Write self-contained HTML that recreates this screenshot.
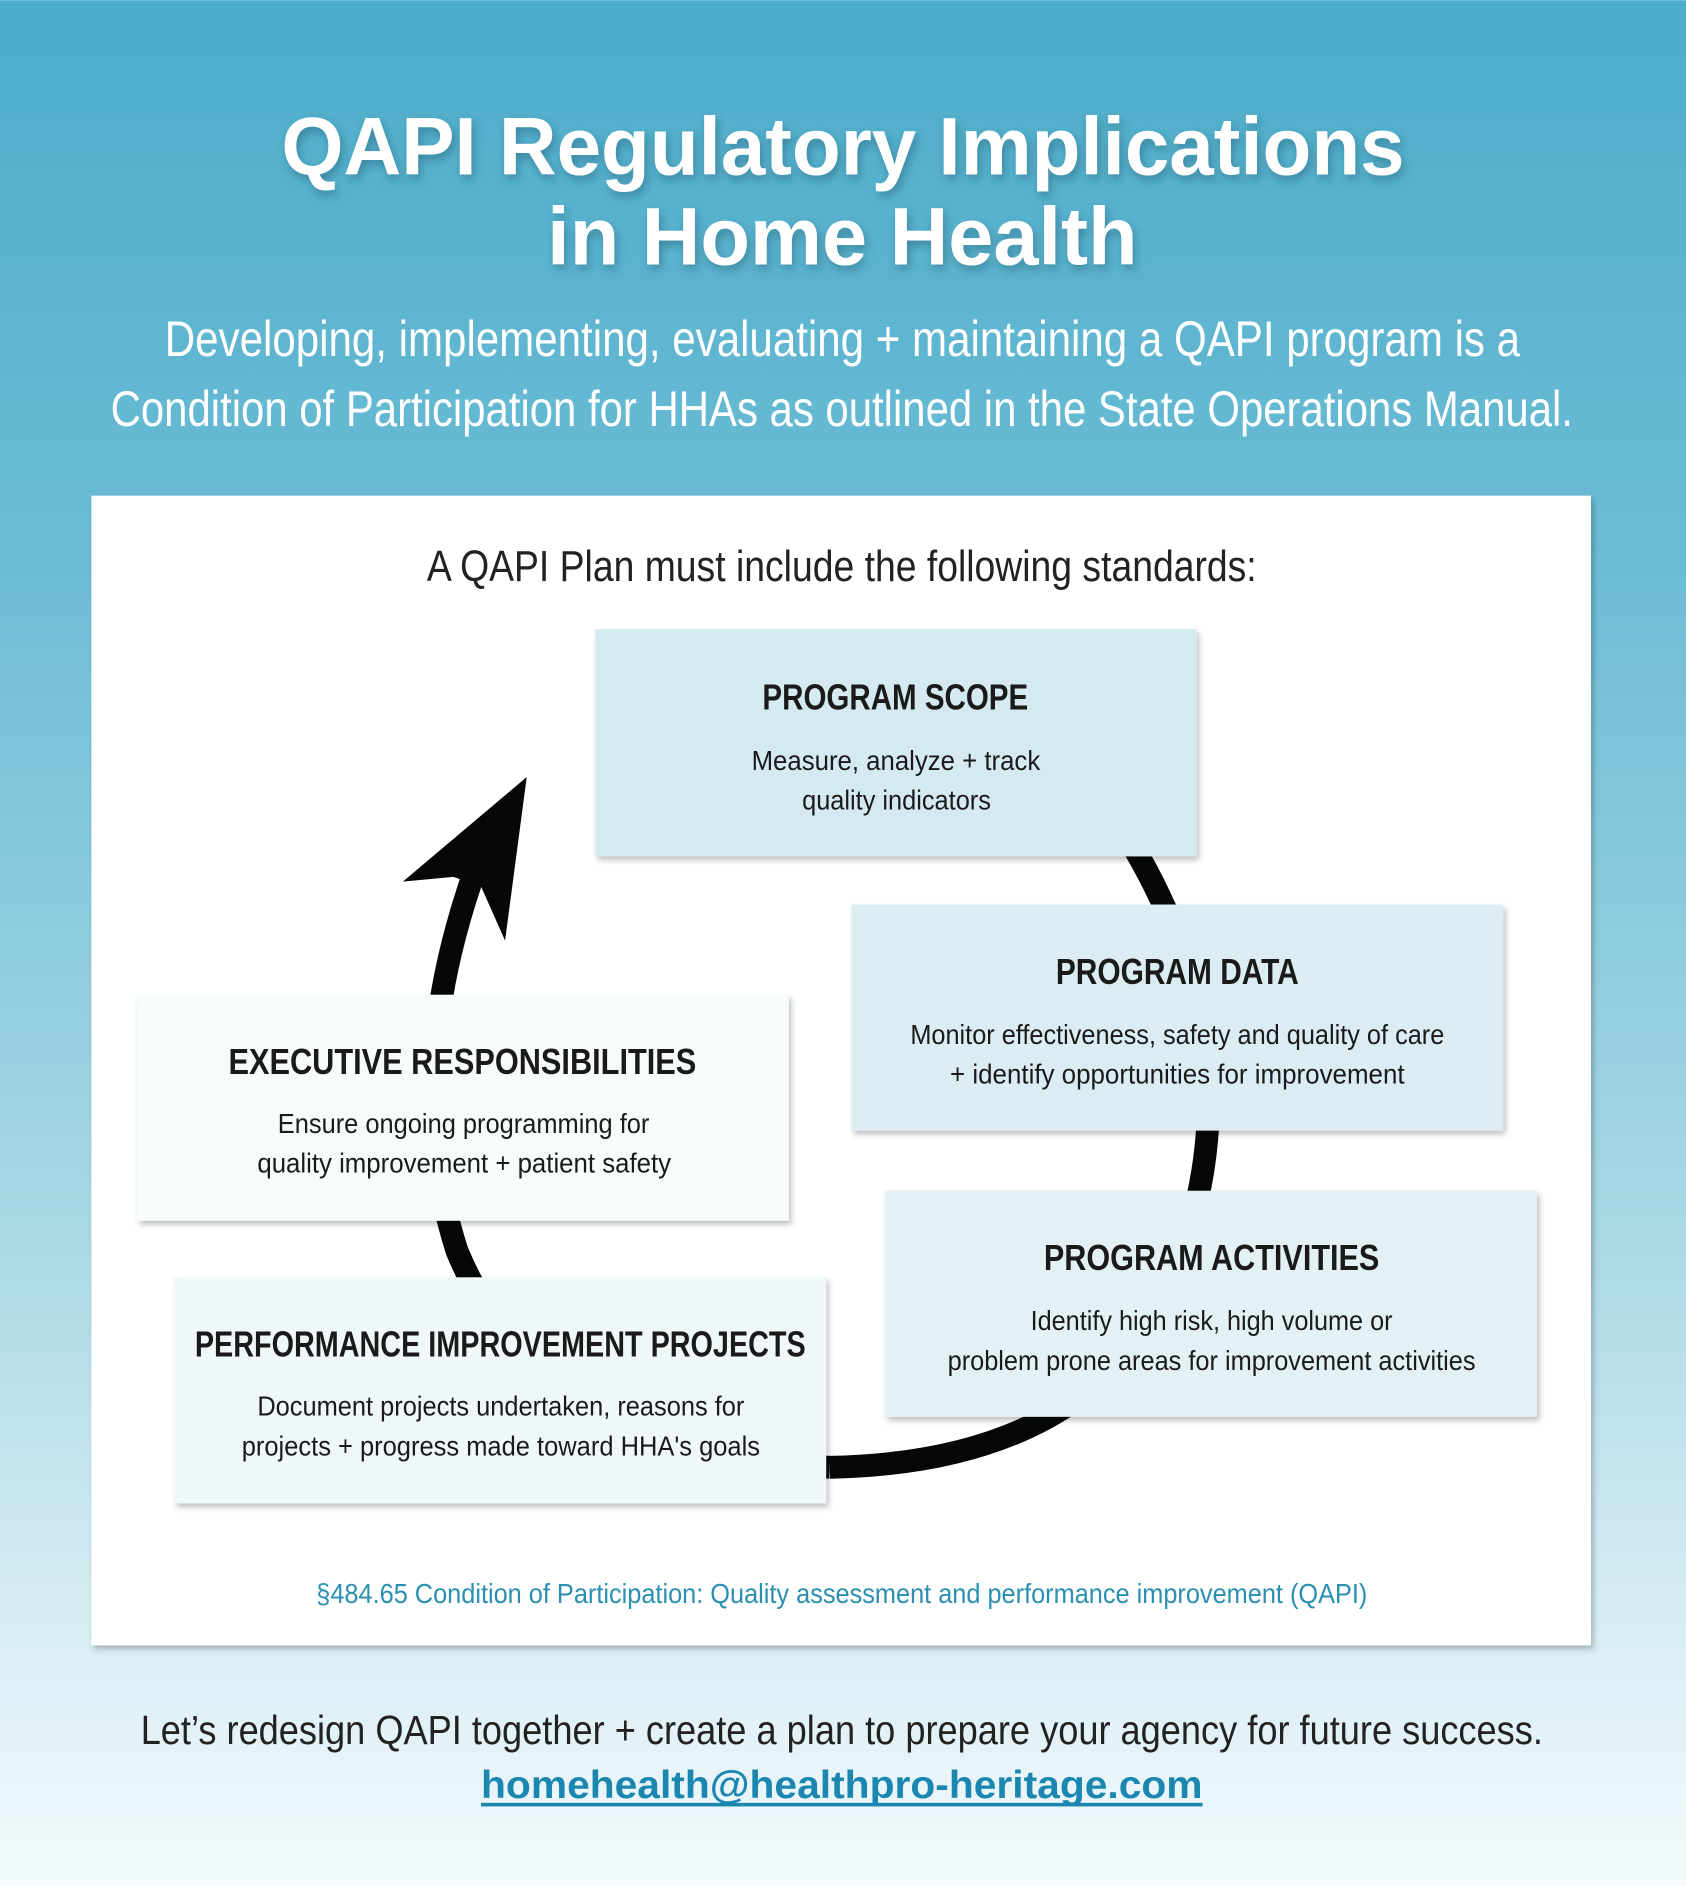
<!DOCTYPE html>
<html><head><meta charset="utf-8"><style>
html,body{margin:0;padding:0;width:1686px;height:1886px;overflow:hidden}
svg{display:block}
</style></head><body>
<svg width="1686" height="1886" viewBox="0 0 1402 1568" xmlns="http://www.w3.org/2000/svg">
<defs>
<linearGradient id="bg" x1="0" y1="0" x2="0" y2="1">
<stop offset="0" stop-color="#4dadca"/>
<stop offset="0.3" stop-color="#6cbcd5"/>
<stop offset="0.65" stop-color="#a9d8e6"/>
<stop offset="1" stop-color="#f4fafc"/>
</linearGradient>
<filter id="sh" x="-5%" y="-5%" width="110%" height="115%"><feDropShadow dx="2" dy="3" stdDeviation="2.5" flood-color="#000" flood-opacity="0.25"/></filter>
<filter id="tsh" x="-5%" y="-20%" width="110%" height="150%"><feDropShadow dx="2" dy="4" stdDeviation="4" flood-color="#1d5a70" flood-opacity="0.5"/></filter>
</defs>
<rect width="1402" height="1568" fill="url(#bg)"/>
<g font-family="Liberation Sans, sans-serif" fill="#fff" font-weight="bold" filter="url(#tsh)">
<text x="234" y="145" font-size="68" textLength="934" lengthAdjust="spacingAndGlyphs">QAPI Regulatory Implications</text>
<text x="455" y="220" font-size="68" textLength="491" lengthAdjust="spacingAndGlyphs">in Home Health</text>
</g>
<g font-family="Liberation Sans Narrow, Liberation Sans, sans-serif" fill="#fff" font-size="42">
<text x="137" y="296" textLength="1127" lengthAdjust="spacingAndGlyphs">Developing, implementing, evaluating + maintaining a QAPI program is a</text>
<text x="92" y="354" textLength="1216" lengthAdjust="spacingAndGlyphs">Condition of Participation for HHAs as outlined in the State Operations Manual.</text>
</g>
<rect x="76" y="412" width="1247" height="956" fill="#fff" filter="url(#sh)"/>
<text x="355" y="483" font-family="Liberation Sans Narrow, Liberation Sans, sans-serif" font-size="36" fill="#222" textLength="690" lengthAdjust="spacingAndGlyphs">A QAPI Plan must include the following standards:</text>
<!-- arrow -->
<path d="M 940 700 Q 1030 850 995 1000 Q 950 1215 690 1220" fill="none" stroke="#060806" stroke-width="19"/>
<path d="M 690 1220 Q 450 1210 380 1040 Q 335 900 392 732" fill="none" stroke="#060806" stroke-width="19"/>
<polygon points="438,646 335,733 377,729 400,737 420,782" fill="#060806"/>
<g filter="url(#sh)">
<rect x="495" y="523" width="500" height="189" fill="#d4eaf0"/>
<rect x="708" y="752" width="542" height="188" fill="#dbedf2"/>
<rect x="736" y="990" width="542" height="188" fill="#e3f1f5"/>
<rect x="145" y="1062" width="542" height="188" fill="#f0f7f9"/>
<rect x="114" y="827" width="542" height="188" fill="#f7fbfc"/>
</g>
<g font-family="Liberation Sans Narrow, Liberation Sans, sans-serif" fill="#1a1a1a">
<g font-size="30" font-weight="bold">
<text x="634" y="590" textLength="221" lengthAdjust="spacingAndGlyphs">PROGRAM SCOPE</text>
<text x="878" y="818" textLength="202" lengthAdjust="spacingAndGlyphs">PROGRAM DATA</text>
<text x="868" y="1056" textLength="279" lengthAdjust="spacingAndGlyphs">PROGRAM ACTIVITIES</text>
<text x="162" y="1128" textLength="508" lengthAdjust="spacingAndGlyphs">PERFORMANCE IMPROVEMENT PROJECTS</text>
<text x="190" y="893" textLength="389" lengthAdjust="spacingAndGlyphs">EXECUTIVE RESPONSIBILITIES</text>
</g>
<g font-size="23">
<text x="625" y="640" textLength="240" lengthAdjust="spacingAndGlyphs">Measure, analyze + track</text>
<text x="667" y="673" textLength="157" lengthAdjust="spacingAndGlyphs">quality indicators</text>
<text x="757" y="868" textLength="444" lengthAdjust="spacingAndGlyphs">Monitor effectiveness, safety and quality of care</text>
<text x="790" y="901" textLength="378" lengthAdjust="spacingAndGlyphs">+ identify opportunities for improvement</text>
<text x="857" y="1106" textLength="301" lengthAdjust="spacingAndGlyphs">Identify high risk, high volume or</text>
<text x="788" y="1139" textLength="439" lengthAdjust="spacingAndGlyphs">problem prone areas for improvement activities</text>
<text x="214" y="1177" textLength="405" lengthAdjust="spacingAndGlyphs">Document projects undertaken, reasons for</text>
<text x="201" y="1210" textLength="431" lengthAdjust="spacingAndGlyphs">projects + progress made toward HHA's goals</text>
<text x="231" y="942" textLength="309" lengthAdjust="spacingAndGlyphs">Ensure ongoing programming for</text>
<text x="214" y="975" textLength="344" lengthAdjust="spacingAndGlyphs">quality improvement + patient safety</text>
</g>
<text x="263" y="1333" font-size="23" fill="#2a8fb0" textLength="874" lengthAdjust="spacingAndGlyphs">§484.65 Condition of Participation: Quality assessment and performance improvement (QAPI)</text>
<text x="117" y="1450" font-size="34" fill="#222" textLength="1166" lengthAdjust="spacingAndGlyphs">Let’s redesign QAPI together + create a plan to prepare your agency for future success.</text>
</g>
<text x="400" y="1495" font-family="Liberation Sans, sans-serif" font-size="32" font-weight="bold" fill="#1b87b0" textLength="600" lengthAdjust="spacingAndGlyphs">homehealth@healthpro-heritage.com</text>
<rect x="400" y="1499" width="600" height="3" fill="#1b87b0"/>
</svg>
</body></html>
